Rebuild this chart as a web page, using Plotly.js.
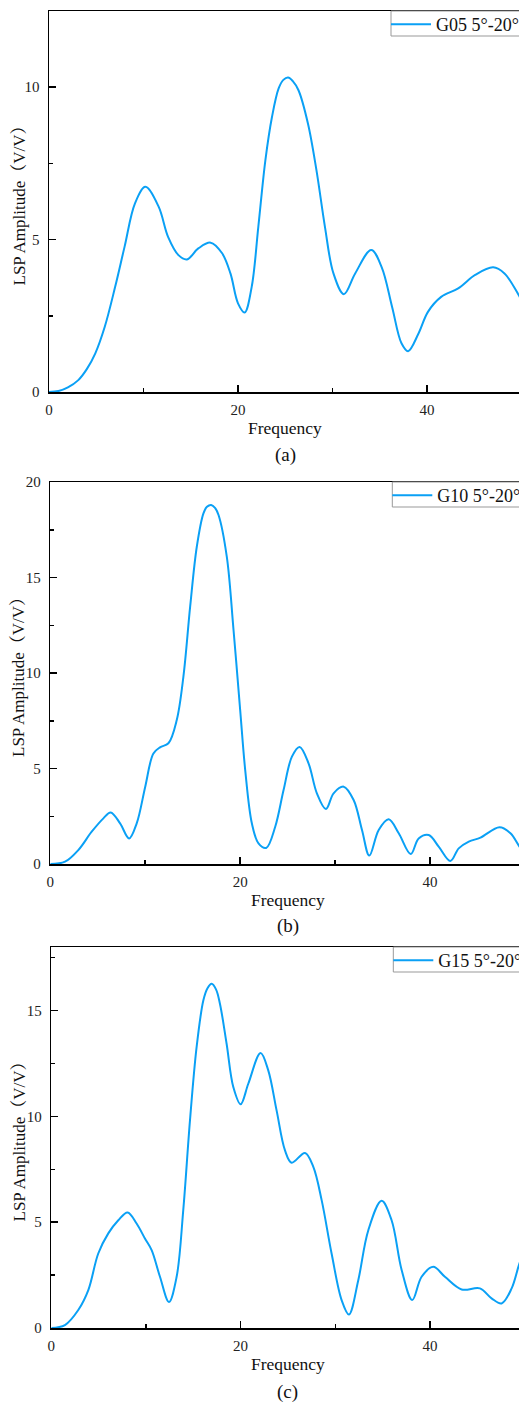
<!DOCTYPE html>
<html>
<head>
<meta charset="utf-8">
<script src="https://cdn.plot.ly/plotly-3.0.1.min.js"></script>
<style>
html, body { margin:0; padding:0; overflow:hidden; background:#fff; width:519px; height:1403px; }
#chart { width:545px; height:1403px; }
</style>
</head>
<body>
<div id="chart"></div>
<script>
// ---- Data ----
var freqA = [0,1.0,2.0,3.1,4.0,4.9,5.9,7.0,8.0,9.1,10.2,11.6,12.6,13.7,14.6,15.8,17.1,18.3,19.2,20.0,20.7,21.45,22.15,22.9,23.6,24.3,24.8,25.3,25.8,26.4,27.4,28.3,29.2,30.1,31.2,32.4,34.1,35.2,36.3,37.3,38.0,39.1,40.1,41.5,43.3,45.1,47.0,48.2,49.7,50];
var ampA  = [0,0.03,0.15,0.39,0.75,1.27,2.14,3.45,4.77,6.19,6.73,6.08,5.09,4.49,4.35,4.71,4.9,4.56,3.89,2.91,2.61,3.45,5.42,7.61,9.03,9.96,10.24,10.32,10.2,9.9,8.81,7.28,5.42,3.89,3.21,3.89,4.66,4.1,2.8,1.6,1.34,1.92,2.63,3.12,3.4,3.84,4.09,3.89,3.18,3.0];

var freqB = [0,1.55,2.95,4.36,5.59,6.36,7.35,8.3,9.1,10.0,10.86,11.56,12.44,13.32,14.02,14.73,15.43,16.13,16.5,16.94,17.35,17.72,18.59,19.3,20.0,20.53,21.23,21.93,22.74,23.69,24.57,25.45,26.26,27.2,28.08,29.03,29.84,30.9,31.95,32.83,33.6,34.59,35.64,36.7,37.96,38.8,39.86,40.91,42.14,43.02,44.08,45.31,47.31,48.47,49.42,50];
var ampB  = [0,0.12,0.73,1.69,2.39,2.7,2.13,1.34,2.13,4.05,5.79,6.11,6.32,7.54,9.81,13.47,16.61,18.36,18.7,18.8,18.65,18.27,16.09,12.25,8.06,4.92,2.13,1.08,0.84,1.95,3.87,5.62,6.13,5.27,3.7,2.88,3.7,4.05,3.35,1.78,0.44,1.78,2.34,1.61,0.52,1.34,1.52,0.91,0.16,0.82,1.17,1.38,1.92,1.61,0.91,0.55];

var freqC = [0,1.44,2.85,3.91,4.96,6.02,7.08,8.06,9.01,9.89,10.6,11.48,12.43,13.24,13.94,14.65,15.35,16.06,16.5,16.94,17.4,17.82,18.52,19.23,20.0,20.81,22.11,22.92,23.8,24.68,25.39,26.8,27.68,28.56,29.61,30.67,31.44,32.43,33.49,34.89,35.95,37.01,38.13,39.12,40.35,41.58,43.35,45.28,46.51,47.57,48.63,49.4,50];
var ampC  = [0,0.14,0.85,1.79,3.52,4.47,5.09,5.46,4.94,4.23,3.68,2.42,1.23,2.42,5.57,9.81,13.27,15.47,16.05,16.26,16.0,15.31,13.43,11.38,10.57,11.54,12.99,12.17,10.28,8.4,7.81,8.27,7.61,6.04,3.52,1.32,0.64,2.26,4.62,6.01,5.09,2.74,1.32,2.42,2.89,2.42,1.82,1.87,1.4,1.16,1.87,2.97,3.7];

var seriesNames = ["G05 5°-20°", "G10 5°-20°", "G15 5°-20°"];
var captions = ["(a)", "(b)", "(c)"];
var xTitle = "Frequency";
var yTitle = "LSP Amplitude（V/V）";
var yRanges = [[0,12.5],[0,20],[0,18]];
var yTickVals = [[0,5,10],[0,5,10,15,20],[0,5,10,15]];
var xTickVals = [0,20,40];

// ---- Layout geometry (pixels) ----
var W = 545, H = 1403;
var lineColor = '#0aa0f5';
var serif = 'Liberation Serif, Times New Roman, Noto Serif CJK SC, Noto Sans CJK SC, serif';
var panels = [
  {left:49,   right:521.5, top:11,  bottom:392,  capY:455,  titleY:428},
  {left:50.3, right:525,   top:482, bottom:864,  capY:926,  titleY:900},
  {left:51.3, right:524.6, top:947, bottom:1328, capY:1392, titleY:1364}
];

var data = [
  {x:freqA, y:ampA, xaxis:'x',  yaxis:'y',  legend:'legend'},
  {x:freqB, y:ampB, xaxis:'x2', yaxis:'y2', legend:'legend2'},
  {x:freqC, y:ampC, xaxis:'x3', yaxis:'y3', legend:'legend3'}
].map(function(t, i){
  t.type = 'scatter'; t.mode = 'lines'; t.name = seriesNames[i];
  t.line = {color: lineColor, width: 2, shape: 'spline', smoothing: 1};
  t.showlegend = true;
  return t;
});

var layout = {
  width: W, height: H,
  margin: {l:0, r:0, t:0, b:0},
  paper_bgcolor: '#fff', plot_bgcolor: '#fff',
  font: {family: serif, color: '#222', size: 15},
  annotations: [], shapes: []
};

panels.forEach(function(p, i){
  var sx = i === 0 ? '' : String(i+1);
  layout['xaxis'+sx] = {
    domain: [p.left/W, p.right/W], anchor: 'y'+sx,
    range: [0,50], tickvals: xTickVals, ticktext: xTickVals.map(String),
    ticks: 'inside', ticklen: 7, tickwidth: 1.5, tickcolor: '#000',
    minor: {tickvals: [10,30], ticks: 'inside', ticklen: 4, tickwidth: 1.5, tickcolor:'#000'},
    showline: true, linecolor: '#000', linewidth: 1.5, mirror: true,
    showgrid: false, zeroline: false, ticklabelstandoff: 3,
    tickfont: {family: serif, size: 15, color: '#222'}, fixedrange: true
  };
  var yMinor = [];
  for (var v = 2.5; v < yRanges[i][1]; v += 5) yMinor.push(v);
  layout['yaxis'+sx] = {
    domain: [1 - p.bottom/H, 1 - p.top/H], anchor: 'x'+sx,
    range: yRanges[i], tickvals: yTickVals[i], ticktext: yTickVals[i].map(String),
    ticks: 'inside', ticklen: 7, tickwidth: 1.5, tickcolor: '#000',
    minor: {tickvals: yMinor, ticks: 'inside', ticklen: 4, tickwidth: 1.5, tickcolor:'#000'},
    showline: true, linecolor: '#000', linewidth: 1.5, mirror: true,
    showgrid: false, zeroline: false, ticklabelstandoff: 5,
    tickfont: {family: serif, size: 15, color: '#222'}, fixedrange: true
  };
  // legend frame (white box with grey border), the legend entry sits inside it
  var boxLeft = p.left + 342;
  layout.shapes.push({
    type: 'rect', xref: 'paper', yref: 'paper', layer: 'above',
    x0: boxLeft/W, x1: 600/W, y0: 1 - (p.top + 25)/H, y1: 1 - p.top/H,
    line: {color: '#999', width: 1}, fillcolor: '#fff'
  });
  var lg = i === 0 ? 'legend' : 'legend'+(i+1);
  layout[lg] = {
    x: (boxLeft - 5)/W, y: 1 - (p.top - 5)/H, xanchor: 'left', yanchor: 'top',
    bgcolor: 'rgba(0,0,0,0)', borderwidth: 0,
    font: {family: serif, size: 18, color: '#111'}, itemwidth: 40
  };
  var cx = (p.left + p.right)/2/W;
  layout.annotations.push({
    text: xTitle, xref:'paper', yref:'paper', x: cx, y: 1 - p.titleY/H,
    xanchor:'center', yanchor:'middle', showarrow:false,
    font:{family: serif, size: 17.5, color:'#111'}
  });
  layout.annotations.push({
    text: captions[i], xref:'paper', yref:'paper', x: cx, y: 1 - p.capY/H,
    xanchor:'center', yanchor:'middle', showarrow:false,
    font:{family: serif, size: 19, color:'#111'}
  });
  layout.annotations.push({
    text: yTitle, xref:'paper', yref:'paper', x: 19/W, y: 1 - (p.top+p.bottom)/2/H,
    xanchor:'center', yanchor:'middle', showarrow:false, textangle: -90,
    font:{family: serif, size: 17, color:'#111'}
  });
});

Plotly.newPlot('chart', data, layout, {displayModeBar:false, staticPlot:true});
</script>
</body>
</html>
